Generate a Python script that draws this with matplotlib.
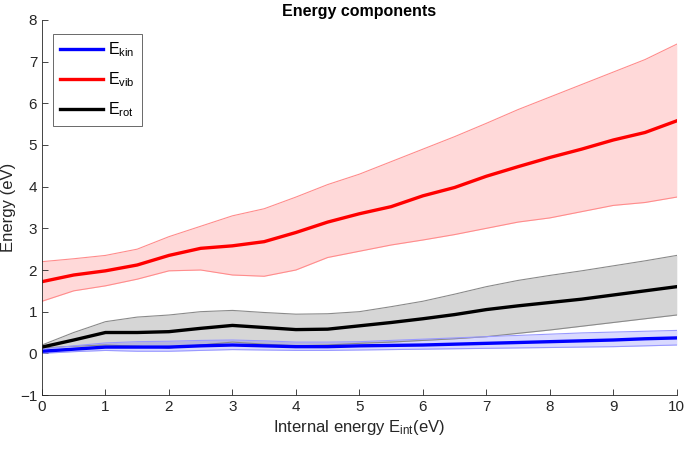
import matplotlib
matplotlib.use("Agg")
import matplotlib.pyplot as plt
import numpy as np

plt.rcParams['font.family'] = ['Liberation Sans', 'DejaVu Sans']
plt.rcParams['mathtext.default'] = 'regular'

x = [0, 0.5, 1, 1.5, 2, 2.5, 3, 3.5, 4, 4.5, 5, 5.5, 6, 6.5, 7, 7.5, 8, 8.5, 9, 9.5, 10]

vib_mean = [1.72, 1.88, 1.98, 2.12, 2.35, 2.52, 2.58, 2.68, 2.9, 3.15, 3.35, 3.52, 3.78, 3.98, 4.25, 4.48, 4.7, 4.9, 5.12, 5.3, 5.58]
vib_up = [2.2, 2.27, 2.35, 2.5, 2.8, 3.05, 3.3, 3.47, 3.75, 4.05, 4.3, 4.6, 4.9, 5.2, 5.52, 5.85, 6.15, 6.45, 6.75, 7.05, 7.42]
vib_lo = [1.25, 1.5, 1.62, 1.78, 1.98, 2.0, 1.88, 1.85, 2.0, 2.3, 2.45, 2.6, 2.72, 2.85, 3.0, 3.15, 3.25, 3.4, 3.55, 3.62, 3.75]

rot_mean = [0.15, 0.32, 0.5, 0.5, 0.52, 0.6, 0.67, 0.62, 0.57, 0.58, 0.66, 0.74, 0.83, 0.93, 1.05, 1.14, 1.22, 1.3, 1.4, 1.5, 1.6]
rot_up = [0.2, 0.5, 0.76, 0.87, 0.92, 1.0, 1.03, 0.98, 0.94, 0.95, 1.0, 1.12, 1.25, 1.42, 1.6, 1.75, 1.87, 1.98, 2.1, 2.22, 2.35]
rot_lo = [0.13, 0.17, 0.2, 0.17, 0.13, 0.2, 0.27, 0.22, 0.18, 0.2, 0.24, 0.27, 0.31, 0.35, 0.4, 0.48, 0.56, 0.65, 0.74, 0.83, 0.92]

kin_mean = [0.05, 0.1, 0.15, 0.15, 0.15, 0.18, 0.2, 0.18, 0.16, 0.16, 0.18, 0.19, 0.2, 0.22, 0.24, 0.26, 0.28, 0.3, 0.32, 0.35, 0.37]
kin_up = [0.1, 0.18, 0.25, 0.28, 0.29, 0.31, 0.32, 0.3, 0.27, 0.27, 0.28, 0.31, 0.34, 0.37, 0.4, 0.43, 0.46, 0.49, 0.51, 0.53, 0.55]
kin_lo = [0.0, 0.04, 0.07, 0.05, 0.05, 0.07, 0.09, 0.08, 0.07, 0.07, 0.08, 0.09, 0.1, 0.11, 0.12, 0.13, 0.14, 0.15, 0.16, 0.18, 0.2]

fig = plt.figure(figsize=(6.85, 4.5), dpi=100)
ax = fig.add_axes([0.0613, 0.1222, 0.9267, 0.8334])

axis_col = '#262626'

# bands
ax.fill_between(x, vib_lo, vib_up, color=(1, 0, 0), alpha=0.15, lw=0)
ax.plot(x, vib_up, color=(1, 0.55, 0.55), lw=0.8)
ax.plot(x, vib_lo, color=(1, 0.55, 0.55), lw=0.8)

ax.fill_between(x, rot_lo, rot_up, color=(0, 0, 0), alpha=0.16, lw=0)
ax.plot(x, rot_up, color='#8a8a8a', lw=0.8)
ax.plot(x, rot_lo, color='#8a8a8a', lw=0.8)

ax.fill_between(x, kin_lo, kin_up, color=(0, 0, 1), alpha=0.15, lw=0)
ax.plot(x, kin_up, color=(0.6, 0.6, 1), lw=0.8)
ax.plot(x, kin_lo, color=(0.6, 0.6, 1), lw=0.8)

# means
l1, = ax.plot(x, kin_mean, color=(0, 0, 1), lw=2.4, label=r'E$_{kin}$')
l2, = ax.plot(x, vib_mean, color=(1, 0, 0), lw=2.4, label=r'E$_{vib}$')
l3, = ax.plot(x, rot_mean, color='black', lw=2.4, label=r'E$_{rot}$')

ax.set_xlim(0, 10)
ax.set_ylim(-1, 8)
ax.set_xticks(range(0, 11))
ax.set_yticks(range(-1, 9))

for s in ['top', 'right']:
    ax.spines[s].set_visible(False)
for s in ['left', 'bottom']:
    ax.spines[s].set_color(axis_col)
    ax.spines[s].set_linewidth(0.6)
ax.tick_params(direction='in', length=4, width=0.6, colors=axis_col, labelsize=11, labelcolor=axis_col)

ax.set_title('Energy components', fontsize=11.5, fontweight='bold', color='black', pad=3)
ax.set_ylabel('Energy (eV)', fontsize=12, color=axis_col, labelpad=3)
ax.set_xlabel(r'Internal energy E$_{int}$(eV)', fontsize=12, color=axis_col, labelpad=3)

leg = ax.legend(handles=[l1, l2, l3], loc='upper left', bbox_to_anchor=(0.005, 0.985),
                fontsize=11.5, frameon=True, fancybox=False, edgecolor=axis_col,
                handlelength=2.7, handletextpad=0.3, borderpad=0.45, labelspacing=0.7)
leg.get_frame().set_linewidth(0.6)

fig.savefig('out.png', dpi=100)
